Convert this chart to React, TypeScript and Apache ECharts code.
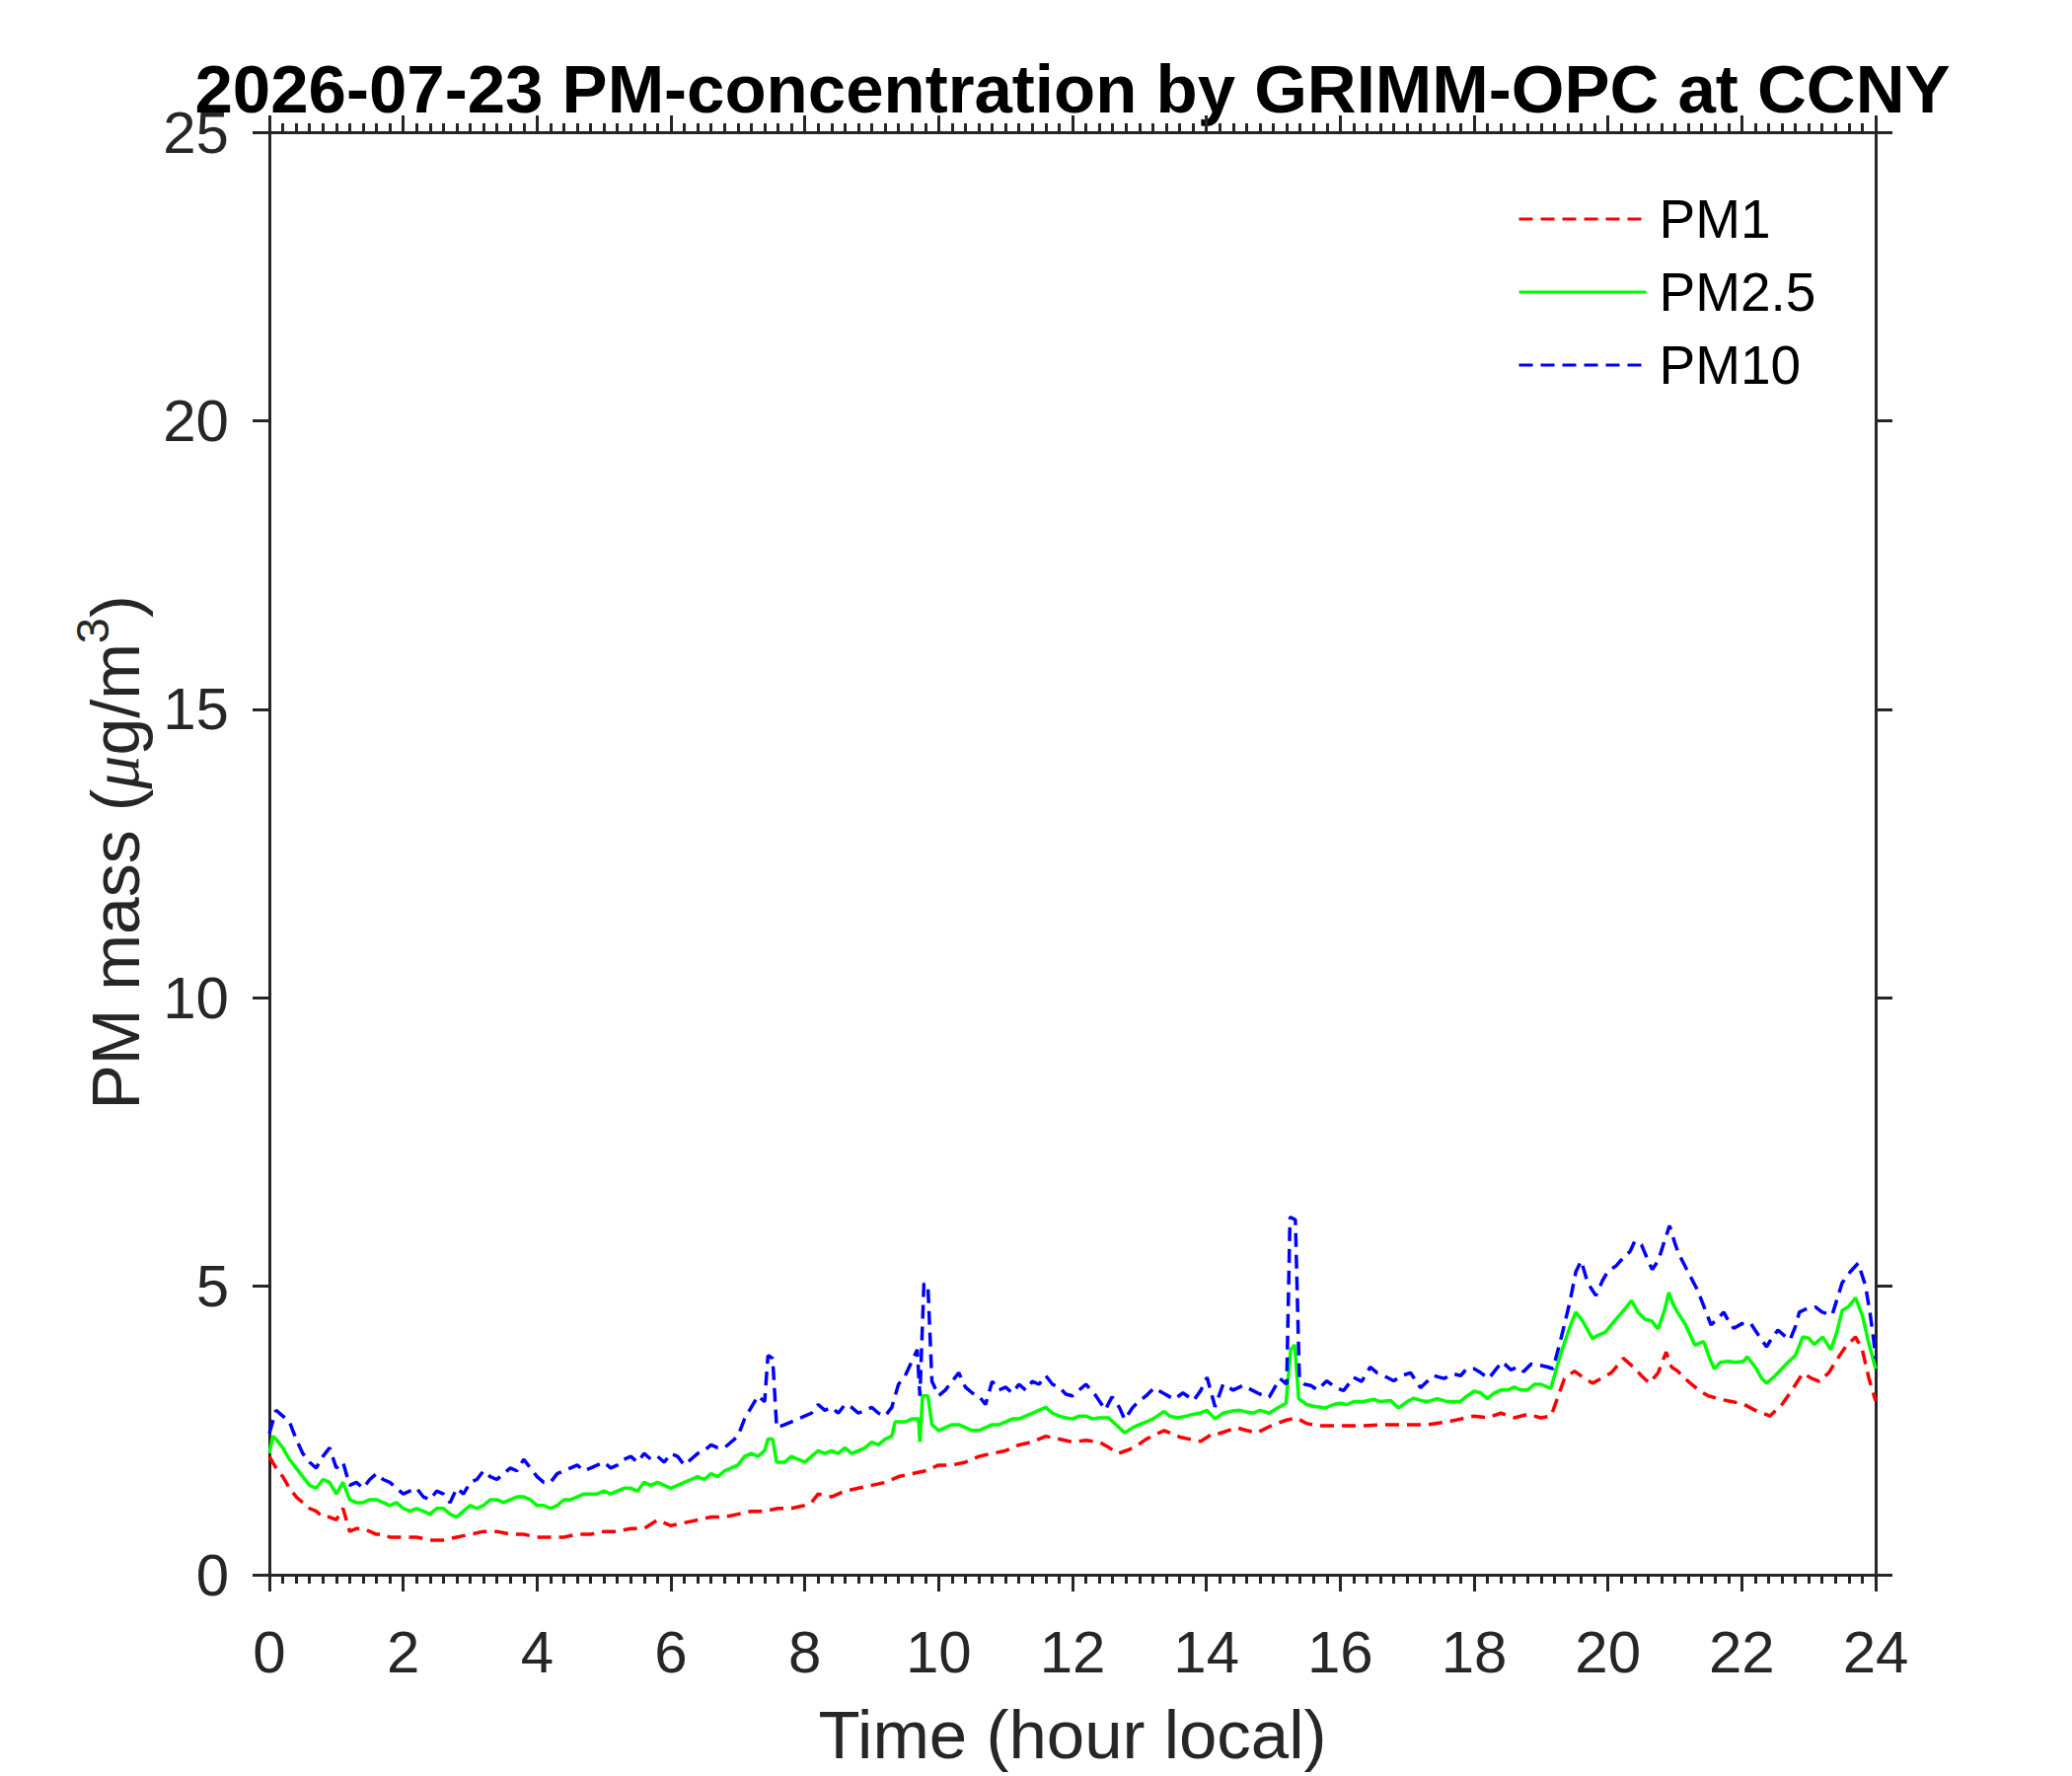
import React, { useEffect, useRef } from "react";
import * as echarts from "echarts";

const TITLE = "2026-07-23 PM-concentration by GRIMM-OPC at CCNY";
const X_NAME = "Time (hour local)";
const SERIES_NAMES = ["PM1", "PM2.5", "PM10"];
const X_MIN = 0;
const X_MAX = 24;
const X_STEP = 2;
const Y_MIN = 0;
const Y_MAX = 25;
const Y_STEP = 5;

// [hour, µg/m3]
const PM1: number[][] = [
  [0, 2.05], [0.1, 1.85], [0.2, 1.7], [0.3, 1.5], [0.4, 1.35], [0.5, 1.25], [0.6, 1.15], [0.7, 1.1], [0.8, 1.0], [0.9, 1.0],
  [1.0, 0.95], [1.1, 1.15], [1.2, 0.75], [1.3, 0.8], [1.4, 0.8], [1.5, 0.75], [1.6, 0.7], [1.7, 0.7], [1.8, 0.65], [1.9, 0.65],
  [2.0, 0.65], [2.2, 0.65], [2.4, 0.6], [2.6, 0.6], [2.8, 0.65], [3.0, 0.7], [3.2, 0.75], [3.4, 0.75], [3.6, 0.7], [3.8, 0.7],
  [4.0, 0.65], [4.2, 0.65], [4.4, 0.65], [4.6, 0.7], [4.8, 0.7], [5.0, 0.75], [5.2, 0.75], [5.4, 0.8], [5.6, 0.8], [5.8, 0.95],
  [6.0, 0.85], [6.2, 0.9], [6.4, 0.95], [6.6, 1.0], [6.8, 1.0], [7.0, 1.05], [7.2, 1.1], [7.4, 1.1], [7.6, 1.15], [7.8, 1.15],
  [8.0, 1.2], [8.1, 1.25], [8.2, 1.4], [8.4, 1.35], [8.6, 1.45], [8.8, 1.5], [9.0, 1.55], [9.2, 1.6], [9.4, 1.7], [9.6, 1.75],
  [9.8, 1.8], [10.0, 1.9], [10.2, 1.9], [10.4, 1.95], [10.6, 2.05], [10.8, 2.1], [11.0, 2.15], [11.2, 2.25], [11.4, 2.3], [11.6, 2.4],
  [11.8, 2.35], [12.0, 2.3], [12.2, 2.33], [12.4, 2.3], [12.55, 2.2], [12.68, 2.1], [12.8, 2.15], [12.93, 2.21], [13.1, 2.35], [13.37, 2.5],
  [13.62, 2.38], [13.91, 2.31], [14.1, 2.45], [14.2, 2.45], [14.45, 2.55], [14.6, 2.5], [14.75, 2.46], [15.0, 2.6], [15.2, 2.68], [15.34, 2.72],
  [15.5, 2.62], [15.68, 2.58], [16.0, 2.58], [16.32, 2.58], [16.6, 2.6], [16.96, 2.6], [17.3, 2.6], [17.6, 2.65], [17.8, 2.7], [18.0, 2.75],
  [18.2, 2.72], [18.4, 2.8], [18.6, 2.72], [18.8, 2.78], [19.0, 2.72], [19.15, 2.75], [19.35, 3.4], [19.5, 3.53], [19.65, 3.4], [19.77, 3.32],
  [19.9, 3.4], [20.05, 3.5], [20.23, 3.75], [20.38, 3.6], [20.5, 3.45], [20.62, 3.32], [20.75, 3.5], [20.87, 3.86], [20.95, 3.6], [21.04, 3.53],
  [21.2, 3.35], [21.38, 3.18], [21.5, 3.1], [21.68, 3.04], [21.85, 3.0], [22.02, 2.96], [22.2, 2.85], [22.42, 2.75], [22.6, 2.95], [22.75, 3.2],
  [22.91, 3.49], [23.05, 3.4], [23.16, 3.35], [23.3, 3.5], [23.4, 3.69], [23.55, 3.95], [23.7, 4.12], [23.8, 3.9], [23.9, 3.4], [24.0, 3.01],
];

const PM25: number[][] = [
  [0, 2.1], [0.05, 2.4], [0.1, 2.35], [0.2, 2.2], [0.3, 2.0], [0.4, 1.85], [0.5, 1.7], [0.6, 1.55], [0.7, 1.5], [0.8, 1.65],
  [0.9, 1.6], [1.0, 1.4], [1.1, 1.6], [1.2, 1.3], [1.3, 1.25], [1.4, 1.25], [1.5, 1.3], [1.6, 1.3], [1.7, 1.25], [1.8, 1.2],
  [1.9, 1.25], [2.0, 1.15], [2.1, 1.1], [2.2, 1.15], [2.3, 1.1], [2.4, 1.05], [2.5, 1.15], [2.6, 1.15], [2.7, 1.05], [2.8, 1.0],
  [2.9, 1.1], [3.0, 1.2], [3.1, 1.15], [3.2, 1.2], [3.3, 1.3], [3.4, 1.3], [3.5, 1.25], [3.6, 1.3], [3.7, 1.35], [3.8, 1.35],
  [3.9, 1.3], [4.0, 1.2], [4.1, 1.2], [4.2, 1.15], [4.3, 1.2], [4.4, 1.3], [4.5, 1.3], [4.6, 1.35], [4.7, 1.4], [4.8, 1.4],
  [4.9, 1.4], [5.0, 1.45], [5.1, 1.4], [5.2, 1.45], [5.3, 1.5], [5.4, 1.5], [5.5, 1.45], [5.6, 1.6], [5.7, 1.55], [5.8, 1.6],
  [5.9, 1.55], [6.0, 1.5], [6.1, 1.55], [6.2, 1.6], [6.3, 1.65], [6.4, 1.7], [6.5, 1.65], [6.6, 1.75], [6.7, 1.7], [6.8, 1.8],
  [6.9, 1.85], [7.0, 1.9], [7.1, 2.05], [7.2, 2.1], [7.3, 2.05], [7.4, 2.15], [7.45, 2.35], [7.52, 2.35], [7.58, 1.95], [7.7, 1.95],
  [7.8, 2.05], [7.9, 2.0], [8.0, 1.95], [8.1, 2.05], [8.2, 2.15], [8.3, 2.1], [8.4, 2.15], [8.5, 2.1], [8.6, 2.2], [8.7, 2.1],
  [8.8, 2.15], [8.9, 2.2], [9.0, 2.3], [9.1, 2.25], [9.2, 2.35], [9.3, 2.4], [9.35, 2.65], [9.5, 2.65], [9.6, 2.7], [9.7, 2.7],
  [9.72, 2.3], [9.76, 3.1], [9.84, 3.1], [9.9, 2.6], [10.0, 2.5], [10.1, 2.55], [10.2, 2.6], [10.3, 2.6], [10.4, 2.55], [10.5, 2.5],
  [10.6, 2.5], [10.7, 2.55], [10.8, 2.6], [10.9, 2.6], [11.0, 2.65], [11.1, 2.7], [11.2, 2.7], [11.3, 2.75], [11.4, 2.8], [11.5, 2.85],
  [11.6, 2.9], [11.7, 2.8], [11.8, 2.75], [11.9, 2.72], [12.0, 2.7], [12.1, 2.75], [12.2, 2.75], [12.3, 2.7], [12.4, 2.72], [12.54, 2.72],
  [12.65, 2.6], [12.78, 2.46], [12.9, 2.55], [13.0, 2.6], [13.1, 2.65], [13.2, 2.7], [13.37, 2.83], [13.45, 2.75], [13.57, 2.72], [13.7, 2.75],
  [13.8, 2.78], [13.9, 2.8], [14.01, 2.85], [14.13, 2.7], [14.25, 2.8], [14.4, 2.84], [14.5, 2.85], [14.6, 2.82], [14.7, 2.8], [14.8, 2.85],
  [14.94, 2.8], [15.05, 2.88], [15.19, 2.97], [15.26, 3.9], [15.32, 3.98], [15.38, 3.05], [15.5, 2.95], [15.6, 2.92], [15.78, 2.89], [15.9, 2.95],
  [16.0, 2.97], [16.1, 2.95], [16.2, 3.0], [16.35, 3.0], [16.5, 3.04], [16.6, 3.0], [16.75, 3.02], [16.87, 2.89], [17.0, 3.0], [17.1, 3.06],
  [17.2, 3.02], [17.3, 3.0], [17.45, 3.05], [17.6, 3.0], [17.79, 3.0], [17.9, 3.1], [18.0, 3.18], [18.1, 3.15], [18.2, 3.05], [18.3, 3.15],
  [18.4, 3.2], [18.5, 3.2], [18.6, 3.25], [18.7, 3.2], [18.8, 3.2], [18.9, 3.3], [19.0, 3.3], [19.1, 3.25], [19.15, 3.24], [19.3, 3.85],
  [19.45, 4.35], [19.52, 4.55], [19.62, 4.4], [19.77, 4.09], [19.85, 4.15], [19.96, 4.2], [20.1, 4.4], [20.25, 4.6], [20.35, 4.75], [20.45, 4.55],
  [20.55, 4.43], [20.65, 4.4], [20.75, 4.26], [20.85, 4.6], [20.91, 4.89], [20.97, 4.7], [21.04, 4.55], [21.15, 4.35], [21.3, 3.98], [21.43, 4.04],
  [21.52, 3.75], [21.59, 3.57], [21.68, 3.68], [21.8, 3.7], [21.9, 3.68], [22.03, 3.7], [22.08, 3.78], [22.2, 3.6], [22.3, 3.4], [22.37, 3.32],
  [22.5, 3.45], [22.67, 3.66], [22.8, 3.8], [22.91, 4.12], [23.0, 4.1], [23.08, 3.99], [23.21, 4.12], [23.33, 3.9], [23.42, 4.2], [23.5, 4.58],
  [23.6, 4.65], [23.7, 4.8], [23.8, 4.5], [23.9, 4.0], [24.0, 3.57],
];

const PM10: number[][] = [
  [0, 2.45], [0.1, 2.85], [0.2, 2.75], [0.3, 2.65], [0.4, 2.35], [0.5, 2.1], [0.6, 1.95], [0.7, 1.85], [0.8, 2.05], [0.9, 2.2],
  [1.0, 1.85], [1.1, 1.95], [1.2, 1.55], [1.3, 1.6], [1.4, 1.5], [1.5, 1.65], [1.6, 1.75], [1.7, 1.65], [1.8, 1.6], [1.9, 1.5],
  [2.0, 1.4], [2.1, 1.45], [2.2, 1.5], [2.3, 1.35], [2.4, 1.3], [2.5, 1.45], [2.6, 1.4], [2.7, 1.25], [2.8, 1.5], [2.9, 1.4],
  [3.0, 1.6], [3.1, 1.65], [3.2, 1.8], [3.3, 1.7], [3.4, 1.65], [3.5, 1.75], [3.6, 1.85], [3.7, 1.8], [3.8, 2.0], [3.9, 1.85],
  [4.0, 1.7], [4.1, 1.6], [4.2, 1.6], [4.3, 1.75], [4.4, 1.8], [4.5, 1.85], [4.6, 1.9], [4.7, 1.8], [4.8, 1.85], [4.9, 1.9],
  [5.0, 1.95], [5.1, 1.85], [5.2, 1.9], [5.3, 2.0], [5.4, 2.05], [5.5, 1.95], [5.6, 2.1], [5.7, 2.0], [5.8, 2.05], [5.9, 1.95],
  [6.0, 2.1], [6.1, 2.05], [6.2, 1.9], [6.3, 2.0], [6.4, 2.1], [6.5, 2.15], [6.6, 2.25], [6.7, 2.2], [6.8, 2.2], [6.9, 2.3],
  [7.0, 2.4], [7.1, 2.7], [7.2, 2.9], [7.3, 3.1], [7.4, 3.0], [7.45, 3.8], [7.52, 3.75], [7.58, 2.55], [7.7, 2.6], [7.8, 2.65],
  [7.9, 2.7], [8.0, 2.75], [8.1, 2.8], [8.2, 2.95], [8.3, 2.85], [8.4, 2.9], [8.5, 2.8], [8.6, 2.95], [8.7, 2.9], [8.8, 2.8],
  [8.9, 2.85], [9.0, 2.9], [9.1, 2.8], [9.2, 2.75], [9.3, 2.9], [9.4, 3.3], [9.5, 3.45], [9.6, 3.7], [9.68, 3.9], [9.72, 3.1],
  [9.78, 5.05], [9.84, 5.0], [9.9, 3.35], [10.0, 3.1], [10.1, 3.2], [10.2, 3.35], [10.3, 3.5], [10.4, 3.25], [10.5, 3.15], [10.6, 3.1],
  [10.7, 2.95], [10.8, 3.35], [10.9, 3.2], [11.0, 3.25], [11.1, 3.15], [11.2, 3.3], [11.3, 3.2], [11.4, 3.35], [11.5, 3.3], [11.6, 3.45],
  [11.7, 3.3], [11.8, 3.25], [11.9, 3.13], [12.0, 3.1], [12.1, 3.2], [12.2, 3.3], [12.35, 3.1], [12.49, 2.86], [12.59, 3.08], [12.7, 2.9],
  [12.78, 2.69], [12.9, 2.9], [12.98, 2.99], [13.1, 3.1], [13.22, 3.24], [13.35, 3.15], [13.52, 3.04], [13.65, 3.15], [13.81, 3.02], [13.92, 3.2],
  [14.01, 3.42], [14.13, 2.91], [14.25, 3.3], [14.4, 3.2], [14.55, 3.28], [14.68, 3.2], [14.8, 3.13], [14.94, 3.08], [15.1, 3.4], [15.2, 3.3],
  [15.25, 6.2], [15.33, 6.15], [15.39, 3.4], [15.47, 3.3], [15.56, 3.28], [15.66, 3.2], [15.8, 3.36], [15.92, 3.25], [16.05, 3.19], [16.2, 3.42],
  [16.32, 3.35], [16.45, 3.6], [16.55, 3.5], [16.65, 3.45], [16.8, 3.36], [16.92, 3.45], [17.05, 3.5], [17.2, 3.24], [17.3, 3.35], [17.4, 3.45],
  [17.55, 3.4], [17.69, 3.48], [17.8, 3.45], [17.89, 3.57], [18.0, 3.57], [18.1, 3.5], [18.22, 3.4], [18.32, 3.55], [18.42, 3.69], [18.55, 3.55],
  [18.65, 3.6], [18.74, 3.52], [18.85, 3.65], [18.99, 3.63], [19.1, 3.6], [19.18, 3.57], [19.3, 4.1], [19.43, 4.72], [19.52, 5.25], [19.6, 5.44],
  [19.7, 5.05], [19.82, 4.84], [19.92, 5.1], [20.0, 5.26], [20.12, 5.35], [20.25, 5.52], [20.33, 5.6], [20.4, 5.78], [20.5, 5.72], [20.58, 5.5],
  [20.66, 5.29], [20.75, 5.44], [20.85, 5.8], [20.92, 6.05], [21.0, 5.75], [21.05, 5.58], [21.2, 5.24], [21.34, 4.93], [21.45, 4.6], [21.54, 4.33],
  [21.65, 4.45], [21.73, 4.55], [21.8, 4.4], [21.88, 4.27], [22.0, 4.35], [22.13, 4.36], [22.25, 4.15], [22.37, 3.95], [22.45, 4.1], [22.54, 4.24],
  [22.63, 4.15], [22.72, 4.07], [22.8, 4.3], [22.86, 4.55], [22.95, 4.6], [23.1, 4.64], [23.2, 4.55], [23.35, 4.5], [23.43, 4.8], [23.5, 5.06],
  [23.62, 5.25], [23.74, 5.4], [23.85, 5.0], [23.92, 4.5], [23.97, 4.07], [24.0, 3.75],
];

const FONT = '"Liberation Sans", Arial, Helvetica, sans-serif';
const AX = "#262626";
const LINE_W = 3.5;
const DASH = [14, 8];

export default function App() {
  const ref = useRef<HTMLDivElement>(null);

  useEffect(() => {
    document.body.style.margin = "0";
    const chart = echarts.init(ref.current!, null, { renderer: "svg" });

    const axisLine = { show: true, onZero: false, lineStyle: { color: AX, width: 3 } };
    const axisTick = { show: true, inside: false, length: 17, lineStyle: { color: AX, width: 3 } };
    const minorTick = { show: true, splitNumber: 10, length: 9, lineStyle: { color: AX, width: 3 } };

    const xBase = {
      type: "value",
      min: X_MIN,
      max: X_MAX,
      interval: X_STEP,
      axisLine,
      axisTick,
      minorTick,
      splitLine: { show: false },
      minorSplitLine: { show: false },
    };
    const yBase = {
      type: "value",
      min: Y_MIN,
      max: Y_MAX,
      interval: Y_STEP,
      axisLine,
      axisTick,
      splitLine: { show: false },
    };

    const mkSeries = (name: string, data: number[][], color: string, dashed: boolean) => ({
      name,
      type: "line",
      xAxisIndex: 0,
      yAxisIndex: 0,
      data,
      symbol: "none",
      showSymbol: false,
      silent: true,
      itemStyle: { color },
      lineStyle: { color, width: LINE_W, type: dashed ? DASH : "solid" },
    });

    chart.setOption({
      animation: false,
      backgroundColor: "#ffffff",
      grid: { left: 273, top: 134, width: 1628, height: 1462, containLabel: false, outerBoundsMode: "none" },
      xAxis: [
        {
          ...xBase,
          position: "bottom",
          axisLabel: { show: true, fontSize: 60, lineHeight: 60, color: AX, fontFamily: FONT, margin: 48 },
        },
        { ...xBase, position: "top", axisLabel: { show: false } },
      ],
      yAxis: [
        {
          ...yBase,
          position: "left",
          axisLabel: { show: true, fontSize: 60, lineHeight: 40, color: AX, fontFamily: FONT, margin: 41 },
        },
        { ...yBase, position: "right", axisLabel: { show: false } },
      ],
      legend: {
        orient: "vertical",
        left: 1533,
        top: 189,
        itemWidth: 129,
        itemHeight: 20,
        itemGap: 18,
        data: SERIES_NAMES,
        itemStyle: { opacity: 0 },
        lineStyle: { width: 3 },
        textStyle: { fontSize: 55, lineHeight: 56, color: "#000", fontFamily: FONT, padding: [0, 0, 0, 8] },
      },
      series: [
        mkSeries(SERIES_NAMES[0], PM1, "#ff0000", true),
        mkSeries(SERIES_NAMES[1], PM25, "#00ff00", false),
        mkSeries(SERIES_NAMES[2], PM10, "#0000ff", true),
      ],
      graphic: [
        {
          type: "text",
          x: 1087,
          y: 90,
          style: {
            text: TITLE,
            fontSize: 69,
            lineHeight: 44,
            fontWeight: "bold",
            fontFamily: FONT,
            fill: "#000",
            align: "center",
            verticalAlign: "middle",
          },
        },
        {
          type: "text",
          x: 1087,
          y: 1758,
          style: {
            text: X_NAME,
            fontSize: 69,
            fontFamily: FONT,
            fill: AX,
            align: "center",
            verticalAlign: "middle",
          },
        },
        {
          type: "text",
          x: 104,
          y: 864,
          rotation: Math.PI / 2,
          style: {
            text: "{a|PM mass (}{mu|μ}{a|g/m}{sup|3}{a|)}",
            align: "center",
            verticalAlign: "middle",
            rich: {
              a: { fontSize: 68, lineHeight: 68, fontFamily: FONT, fill: AX, padding: [25, 0, 0, 0] },
              mu: {
                fontSize: 68,
                lineHeight: 68,
                fontFamily: '"Liberation Serif", "DejaVu Serif", serif',
                fontStyle: "italic",
                fill: AX,
                padding: [25, 0, 0, 0],
              },
              sup: { fontSize: 47, lineHeight: 47, fontFamily: FONT, fill: AX, verticalAlign: "top" },
            },
          },
        },
      ],
    });

    return () => chart.dispose();
  }, []);

  return (
    <div
      ref={ref}
      style={{ position: "absolute", left: 0, top: 0, width: 2100, height: 1800, background: "#fff" }}
    />
  );
}
